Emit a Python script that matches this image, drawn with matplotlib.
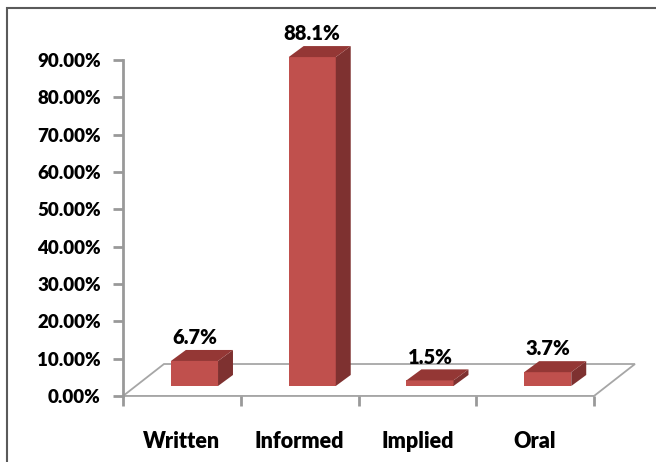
import matplotlib
matplotlib.use("Agg")
import matplotlib.pyplot as plt
from matplotlib.patches import Polygon, Rectangle
from matplotlib.ticker import FuncFormatter

plt.rcParams["font.family"] = ["Lato", "DejaVu Sans"]
plt.rcParams["font.weight"] = "heavy"

# data
categories = ["Written", "Informed", "Implied", "Oral"]
values = [6.7, 88.1, 1.5, 3.7]
y_ticks = [0, 10, 20, 30, 40, 50, 60, 70, 80, 90]

# colours
front_col = "#C0504D"
side_col = "#7E3130"
top_col = "#943735"
axis_col = "#999999"

# pseudo-3D geometry, in data units (category units / percent points)
floor_dx, floor_dy = 0.348, 8.57
bar_off_x, bar_off_y = 0.107, 2.68
bar_w = 0.40
depth_dx, depth_dy = 0.127, 2.95
label_gap = 3.3

fig = plt.figure(figsize=(6.56, 4.62), dpi=100)
ax = fig.add_axes([123 / 656, (462 - 396) / 462, (594 - 123) / 656, (396 - 60) / 462])
ax.set_xlim(-0.5, len(categories) - 0.5)
ax.set_ylim(0, 90)

# floor
n = len(categories)
floor = Polygon([(-0.5, 0), (n - 0.5, 0), (n - 0.5 + floor_dx, floor_dy),
                 (-0.5 + floor_dx, floor_dy)], closed=True, fill=False,
                edgecolor="#A6A6A6", lw=1.3, clip_on=False, zorder=1)
ax.add_patch(floor)

# bars
for i, v in enumerate(values):
    x0 = i + bar_off_x - bar_w / 2
    x1 = i + bar_off_x + bar_w / 2
    y0 = bar_off_y
    y1 = bar_off_y + v
    front = Polygon([(x0, y0), (x1, y0), (x1, y1), (x0, y1)], closed=True,
                    facecolor=front_col, edgecolor="none", clip_on=False, zorder=3)
    side = Polygon([(x1, y0), (x1 + depth_dx, y0 + depth_dy),
                    (x1 + depth_dx, y1 + depth_dy), (x1, y1)], closed=True,
                   facecolor=side_col, edgecolor="none", clip_on=False, zorder=3)
    top = Polygon([(x0, y1), (x1, y1), (x1 + depth_dx, y1 + depth_dy),
                   (x0 + depth_dx, y1 + depth_dy)], closed=True,
                  facecolor=top_col, edgecolor="none", clip_on=False, zorder=3)
    for p in (front, side, top):
        ax.add_patch(p)
    ax.text(i + bar_off_x, y1 + depth_dy + label_gap, f"{v:.1f}%",
            ha="center", va="center", fontsize=14.5, fontweight="heavy",
            color="black", clip_on=False, zorder=4)

# axes styling
for s in ["top", "right", "bottom"]:
    ax.spines[s].set_visible(False)
ax.spines["left"].set_color(axis_col)
ax.spines["left"].set_linewidth(2)
ax.set_yticks(y_ticks)
ax.yaxis.set_major_formatter(FuncFormatter(lambda v, p: f"{v:.2f}%"))
ax.tick_params(axis="y", length=7, width=2, color=axis_col, pad=9,
               labelsize=13.5)

# x: tick marks at category boundaries, labels at centres
ax.set_xticks(range(n))
ax.set_xticklabels(categories, fontsize=15.5, fontweight="heavy")
ax.set_xticks([i - 0.5 for i in range(n + 1)], minor=True)
ax.tick_params(axis="x", which="major", length=0, pad=25)
ax.tick_params(axis="x", which="minor", length=7, width=2, color=axis_col)
ax.axhline(0, color="#A6A6A6", lw=1.3, zorder=1)

# outer border (right and bottom edges fall outside the image)
fig.add_artist(Rectangle((7 / 656, -0.1), 1.2, 1 - 8 / 462 + 0.1,
                         transform=fig.transFigure, fill=False,
                         edgecolor="#5a5a5a", lw=1.5))

fig.savefig("out.png", dpi=100)
